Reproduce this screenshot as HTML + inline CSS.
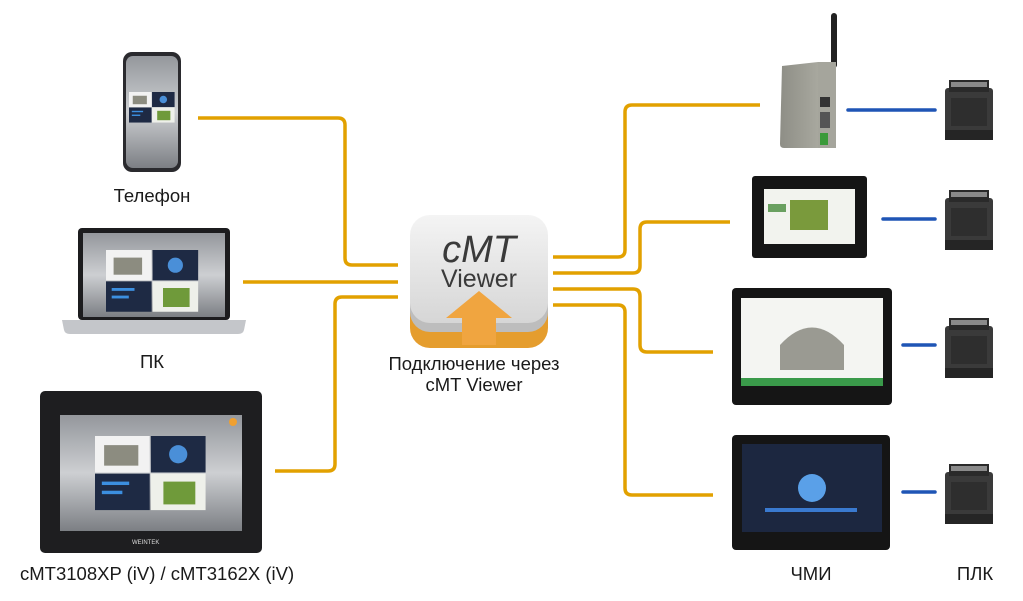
<!DOCTYPE html>
<html><head><meta charset="utf-8"><style>
html,body{margin:0;padding:0;background:#fff;width:1023px;height:601px;overflow:hidden}
svg{display:block}
text{font-family:"Liberation Sans",sans-serif;fill:#1a1a1a}
</style></head><body>
<svg width="1023" height="601" viewBox="0 0 1023 601">
<defs>
<linearGradient id="scr" x1="0" y1="0" x2="0" y2="1"><stop offset="0" stop-color="#94979c"/><stop offset=".5" stop-color="#cdcfd2"/><stop offset="1" stop-color="#7c7f84"/></linearGradient>
<linearGradient id="icn" x1="0" y1="0" x2="0" y2="1"><stop offset="0" stop-color="#f4f4f4"/><stop offset="1" stop-color="#d6d6d6"/></linearGradient>
<linearGradient id="gw" x1="0" y1="0" x2="1" y2="0"><stop offset="0" stop-color="#8e8e86"/><stop offset="1" stop-color="#b4b4aa"/></linearGradient>
<g id="plc"><rect x="0" y="8" width="48" height="52" rx="3" fill="#3a3a3a"/><rect x="4" y="0" width="40" height="12" fill="#2a2a2a"/><rect x="6" y="2" width="36" height="5" fill="#8a8a8a"/><rect x="6" y="18" width="36" height="28" fill="#2e2e2e"/><rect x="0" y="50" width="48" height="10" fill="#252525"/></g>
<g id="tiles"><rect x="0" y="0" width="48" height="32" fill="#f2f2f2"/><rect x="49" y="0" width="48" height="32" fill="#1e2a44"/><rect x="0" y="33" width="48" height="32" fill="#1e2a44"/><rect x="49" y="33" width="48" height="32" fill="#eef0ea"/><rect x="8" y="8" width="30" height="18" fill="#8c8c80"/><circle cx="73" cy="16" r="8" fill="#4a8fd8"/><rect x="60" y="40" width="28" height="20" fill="#6f9a3a"/><rect x="6" y="40" width="24" height="3" fill="#3c8fe0"/><rect x="6" y="48" width="18" height="3" fill="#3c8fe0"/></g>
</defs>

<g fill="none" stroke="#e2a100" stroke-width="3.5" stroke-linejoin="round">
<path d="M198 118 H338 Q345 118 345 125 V258 Q345 265 352 265 H398"/>
<path d="M243 282 H398"/>
<path d="M275 471 H328 Q335 471 335 464 V304 Q335 297 342 297 H398"/>
<path d="M553 257 H618 Q625 257 625 250 V112 Q625 105 632 105 H760"/>
<path d="M553 273 H633 Q640 273 640 266 V229 Q640 222 647 222 H730"/>
<path d="M553 289 H633 Q640 289 640 296 V345 Q640 352 647 352 H713"/>
<path d="M553 305 H618 Q625 305 625 312 V488 Q625 495 632 495 H713"/>
</g>
<g stroke="#1f55b5" stroke-width="3.5" stroke-linecap="round">
<path d="M848 110 H935"/><path d="M883 219 H935"/><path d="M903 345 H935"/><path d="M903 492 H935"/>
</g>

<rect x="123" y="52" width="58" height="120" rx="9" fill="#2a2a2e"/>
<rect x="126" y="56" width="52" height="112" rx="7" fill="url(#scr)"/>
<g transform="translate(129,92) scale(0.47)"><use href="#tiles"/></g>
<text x="152" y="202" font-size="18.5" text-anchor="middle">Телефон</text>

<rect x="78" y="228" width="152" height="92" rx="4" fill="#1c1c1e"/>
<rect x="83" y="233" width="142" height="84" fill="url(#scr)"/>
<g transform="translate(106,250) scale(0.95)"><use href="#tiles"/></g>
<path d="M62 320 H246 L244 330 Q243 334 238 334 H70 Q65 334 64 330 Z" fill="#c4c6ca"/>
<text x="152" y="368" font-size="18.5" text-anchor="middle">ПК</text>

<rect x="40" y="391" width="222" height="162" rx="5" fill="#1e1e20"/>
<rect x="60" y="415" width="182" height="116" fill="url(#scr)"/>
<g transform="translate(95,436) scale(1.14)"><use href="#tiles"/></g>
<circle cx="233" cy="422" r="4" fill="#f0a030"/>
<text x="132" y="544" font-size="6" style="fill:#ddd">WEINTEK</text>
<text x="20" y="580" font-size="18.5">cMT3108XP (iV) / cMT3162X (iV)</text>

<rect x="410" y="258" width="138" height="90" rx="20" fill="#e59d2e"/>
<rect x="410" y="240" width="138" height="92" rx="20" fill="#bdbdbd"/>
<rect x="410" y="215" width="138" height="108" rx="20" fill="url(#icn)"/>
<text x="479" y="262" font-size="38" font-style="italic" text-anchor="middle" style="fill:#3a3a3a">cMT</text>
<text x="479" y="287" font-size="25" text-anchor="middle" style="fill:#3a3a3a">Viewer</text>
<path d="M479 291 L512 318 H496 V345 H462 V318 H446 Z" fill="#f0a540"/>
<text x="474" y="370" font-size="18.5" text-anchor="middle">Подключение через</text>
<text x="474" y="391" font-size="18.5" text-anchor="middle">cMT Viewer</text>

<rect x="831" y="13" width="6" height="55" rx="3" fill="#222"/>
<path d="M782 66 L818 62 H836 V148 H784 Q780 148 780 144 Z" fill="url(#gw)"/>
<rect x="818" y="62" width="18" height="86" fill="#a5a59c"/>
<rect x="820" y="97" width="10" height="10" fill="#333"/>
<rect x="820" y="112" width="10" height="16" fill="#555"/>
<rect x="820" y="133" width="8" height="12" fill="#3a9a3a"/>

<rect x="752" y="176" width="115" height="82" rx="3" fill="#151515"/>
<rect x="764" y="189" width="91" height="55" fill="#f2f3ee"/>
<rect x="790" y="200" width="38" height="30" fill="#7a9a3c"/>
<rect x="768" y="204" width="18" height="8" fill="#6aa060"/>

<rect x="732" y="288" width="160" height="117" rx="4" fill="#151515"/>
<rect x="741" y="298" width="142" height="88" fill="#f4f5f2"/>
<path d="M780 345 Q812 310 844 345 V370 H780 Z" fill="#9a9a92"/>
<rect x="741" y="378" width="142" height="8" fill="#3a9a4a"/>

<rect x="732" y="435" width="158" height="115" rx="4" fill="#151515"/>
<rect x="742" y="444" width="140" height="88" fill="#1c2740"/>
<circle cx="812" cy="488" r="14" fill="#5aa0e8"/>
<rect x="765" y="508" width="92" height="4" fill="#3a7ad0"/>

<use href="#plc" x="945" y="80"/>
<use href="#plc" x="945" y="190"/>
<use href="#plc" x="945" y="318"/>
<use href="#plc" x="945" y="464"/>

<text x="811" y="580" font-size="18.5" text-anchor="middle">ЧМИ</text>
<text x="975" y="580" font-size="18.5" text-anchor="middle">ПЛК</text>
</svg>
</body></html>
